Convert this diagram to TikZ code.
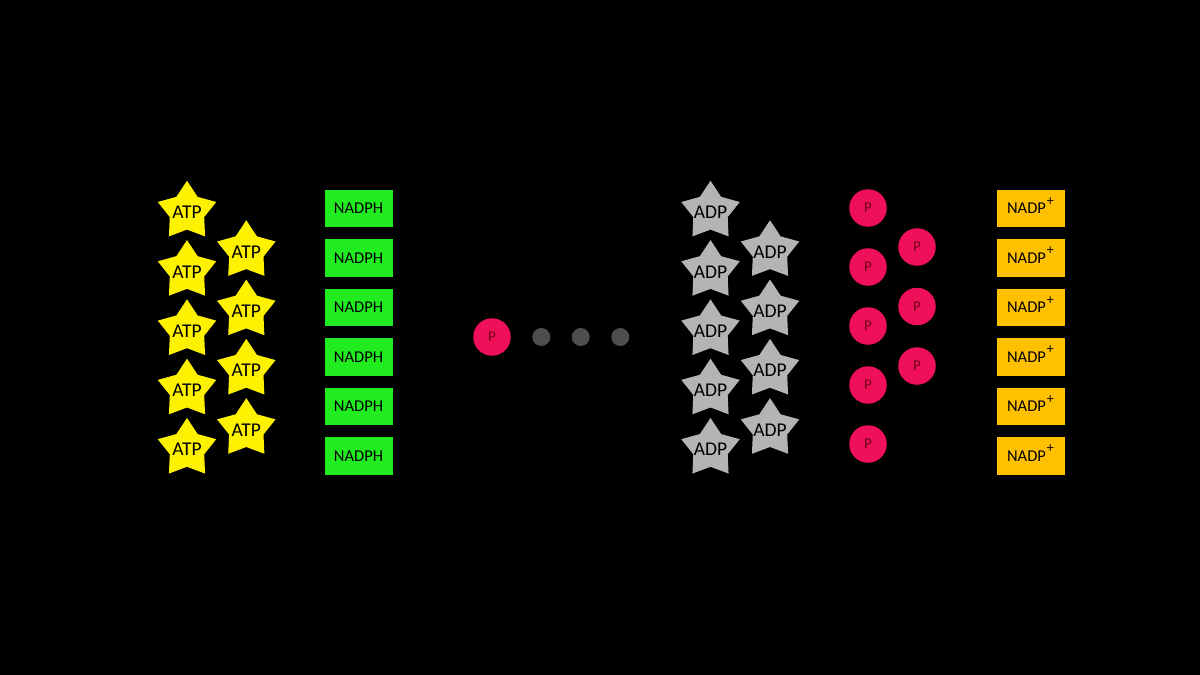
\documentclass[tikz,border=0pt]{standalone}
\usepackage{fontspec}
\setmainfont{Carlito}
\usetikzlibrary{shapes.geometric}
\definecolor{atpyellow}{RGB}{255,242,0}
\definecolor{adpgray}{RGB}{180,180,180}
\definecolor{nadphgreen}{RGB}{32,236,32}
\definecolor{nadpgold}{RGB}{255,192,0}
\definecolor{ppink}{RGB}{240,16,90}
\definecolor{ptext}{RGB}{110,0,30}
\definecolor{dotgray}{RGB}{78,78,78}
\newcommand{\plussup}{\raisebox{8.5pt}[0pt][0pt]{\fontsize{14}{14}\selectfont+}}
\begin{document}
\begin{tikzpicture}[x=1pt,y=-1pt,
  starbase/.style={star, star points=5, star point ratio=1.7, minimum size=61.5pt, inner sep=0pt, draw=none},
  atpstar/.style={starbase, fill=atpyellow},
  adpstar/.style={starbase, fill=adpgray},
  startext/.style={inner sep=0pt, text=black, font=\fontsize{19.5}{19.5}\selectfont},
  boxbase/.style={rectangle, minimum width=68pt, minimum height=37.5pt, inner sep=0pt, draw=none, text=black, font=\fontsize{16.5}{16.5}\selectfont},
  nadph/.style={boxbase, fill=nadphgreen},
  nadp/.style={boxbase, fill=nadpgold},
  phos/.style={circle, minimum size=37.5pt, inner sep=0pt, fill=ppink, text=ptext, font=\fontsize{15}{15}\selectfont},
  graydot/.style={circle, minimum size=18pt, inner sep=0pt, fill=dotgray}
]
\fill[black] (0,0) rectangle (1200,675);
\useasboundingbox (0,0) rectangle (1200,675);

% ATP stars
\foreach \k in {0,...,4} {
  \node[atpstar] (atpA\k) at (187,{211.5+59.3*\k}) {};
  \node[startext] (atpAt\k) at ([yshift=-1pt]atpA\k) {ATP};
}
\foreach \k in {0,...,3} {
  \node[atpstar] (atpB\k) at (246.3,{251+59.3*\k}) {};
  \node[startext] (atpBt\k) at ([yshift=-1pt]atpB\k) {ATP};
}

% NADPH boxes
\foreach \k in {0,...,5} {
  \node[nadph] (nadph\k) at (358.5,{208.5+49.5*\k}) {NADPH};
}

% Middle: phosphate and dots
\node[phos] (pmid) at (492,337) {P};
\node[graydot] (dot1) at (541.3,337) {};
\node[graydot] (dot2) at (580.7,337) {};
\node[graydot] (dot3) at (620.3,337) {};

% ADP stars
\foreach \k in {0,...,4} {
  \node[adpstar] (adpA\k) at (710.5,{211.5+59.3*\k}) {};
  \node[startext] (adpAt\k) at ([yshift=-1pt]adpA\k) {ADP};
}
\foreach \k in {0,...,3} {
  \node[adpstar] (adpB\k) at (770,{251+59.3*\k}) {};
  \node[startext] (adpBt\k) at ([yshift=-1pt]adpB\k) {ADP};
}

% Phosphates
\foreach \k in {0,...,4} {
  \node[phos] (pA\k) at (868,{208+59*\k}) {P};
}
\foreach \k in {0,...,2} {
  \node[phos] (pB\k) at (917,{247+59.5*\k}) {P};
}

% NADP+ boxes
\foreach \k in {0,...,5} {
  \node[nadp] (nadp\k) at (1030.5,{208.5+49.5*\k}) {NADP\kern1pt\plussup};
}
\end{tikzpicture}
\end{document}
